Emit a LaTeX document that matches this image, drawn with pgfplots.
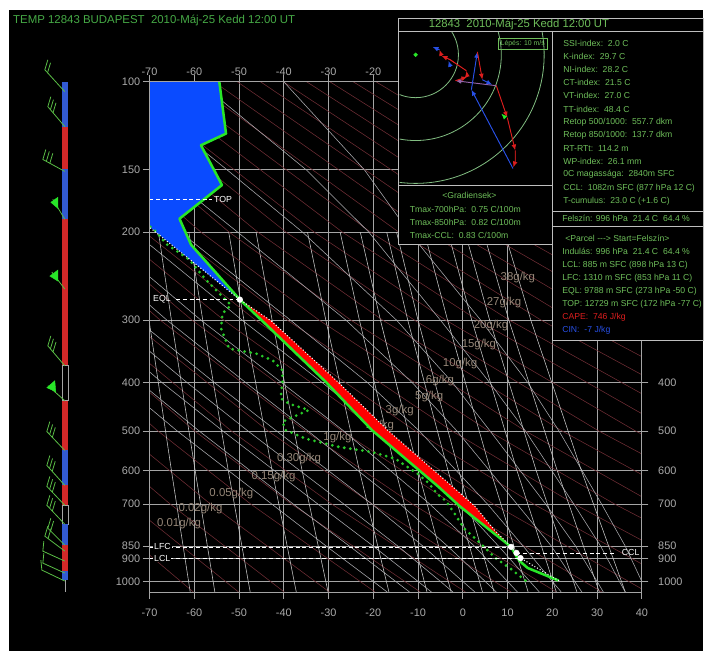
\documentclass[border=0pt]{standalone}
\usepackage{fontspec}
\setmainfont{Liberation Sans}
\usepackage{pgfplots}
\pgfplotsset{compat=1.18}
\usetikzlibrary{arrows.meta}
\definecolor{bggrid}{RGB}{165,165,165}
\definecolor{dryad}{RGB}{110,45,52}
\definecolor{wetad}{RGB}{170,170,175}
\definecolor{mixr}{RGB}{200,200,200}
\definecolor{lbl}{RGB}{150,135,120}
\definecolor{tgreen}{RGB}{40,230,40}
\definecolor{dgreen}{RGB}{40,200,40}
\definecolor{txtgreen}{RGB}{110,190,90}
\definecolor{titgreen}{RGB}{70,170,70}
\definecolor{capeblue}{RGB}{10,75,255}
\definecolor{capered}{RGB}{255,0,0}
\definecolor{boxline}{RGB}{190,190,190}
\definecolor{ticklab}{RGB}{170,170,170}
\definecolor{ring}{RGB}{130,190,130}
\definecolor{barbg}{RGB}{90,190,70}
\definecolor{barblue}{RGB}{50,90,210}
\definecolor{barred}{RGB}{210,40,40}
\definecolor{hred}{RGB}{220,30,30}
\definecolor{hblue}{RGB}{40,80,230}
\definecolor{hpurp}{RGB}{150,100,170}
\newcommand{\fs}[1]{\fontsize{#1}{#1}\selectfont}
\tikzset{glab/.style={font=\fs{8.6}, text=lbl, inner sep=0pt}, px/.style={x=0.75pt,y=-0.75pt}}
\begin{document}
\begin{tikzpicture}
\begin{scope}[px]
\path[use as bounding box] (0,0) rectangle (704,653);
\fill[black] (9,10) rectangle (705,654);
\end{scope}

\begin{axis}[at={(112.5pt,-445.5pt)}, anchor=south west, width=370.5pt, height=384pt, scale only axis,
 xmin=-70, xmax=40, ymin=100, ymax=1050, ymode=log, y dir=reverse,
 axis line style={draw=bggrid, line width=0.6pt},
 xtick={-70,-60,...,40}, xticklabels={-70,-60,-50,-40,-30,-20,-10,0,10,20,30,40},
 ytick={100,150,200,300,400,500,600,700,850,900,1000},
 yticklabels={100,150,200,300,400,500,600,700,850,900,1000},
 yminorticks=false, xminorticks=false,
 grid=major, major grid style={draw=bggrid, line width=0.5pt},
 tick style={draw=bggrid, line width=0.6pt}, tick align=outside, major tick length=5pt,
 xticklabel pos=lower, yticklabel pos=left,
 ticklabel style={font=\fs{8.2}, text=ticklab},
 xticklabel style={yshift=-3.8pt},
 yticklabel style={xshift=1.5pt},
 clip=true,
 dry/.style={draw=dryad, line width=0.42pt},
 wet/.style={draw=wetad, line width=0.42pt},
 mix/.style={draw=mixr, line width=0.42pt},
]
% dry adiabats
\addplot[dry] coordinates {(-60.2,1050) (-83.5,700)};
\addplot[dry] coordinates {(-50.1,1050) (-74.5,700)};
\addplot[dry] coordinates {(-39.9,1050) (-65.4,700) (-84.5,500)};
\addplot[dry] coordinates {(-29.8,1050) (-56.4,700) (-76.3,500)};
\addplot[dry] coordinates {(-19.6,1050) (-47.4,700) (-68.1,500) (-95.9,300)};
\addplot[dry] coordinates {(-9.5,1050) (-38.3,700) (-59.9,500) (-88.8,300)};
\addplot[dry] coordinates {(0.6,1050) (-29.3,700) (-51.7,500) (-81.7,300)};
\addplot[dry] coordinates {(10.8,1050) (-20.3,700) (-43.5,500) (-74.6,300) (-96.4,200)};
\addplot[dry] coordinates {(20.9,1050) (-11.3,700) (-35.2,500) (-67.6,300) (-90.0,200)};
\addplot[dry] coordinates {(31.1,1050) (-2.2,700) (-27.0,500) (-60.5,300) (-83.7,200)};
\addplot[dry] coordinates {(41.2,1050) (6.8,700) (-18.8,500) (-53.4,300) (-77.4,200)};
\addplot[dry] coordinates {(51.3,1050) (15.8,700) (-10.6,500) (-46.3,300) (-71.1,200) (-107.4,100)};
\addplot[dry] coordinates {(61.5,1050) (24.9,700) (-2.4,500) (-39.2,300) (-64.8,200) (-102.2,100)};
\addplot[dry] coordinates {(71.6,1050) (33.9,700) (5.8,500) (-32.1,300) (-58.5,200) (-97.0,100)};
\addplot[dry] coordinates {(42.9,700) (14.0,500) (-25.0,300) (-52.2,200) (-91.9,100)};
\addplot[dry] coordinates {(52.0,700) (22.2,500) (-17.9,300) (-45.8,200) (-86.7,100)};
\addplot[dry] coordinates {(61.0,700) (30.4,500) (-10.8,300) (-39.5,200) (-81.5,100)};
\addplot[dry] coordinates {(70.0,700) (38.6,500) (-3.8,300) (-33.2,200) (-76.3,100)};
\addplot[dry] coordinates {(46.8,500) (3.3,300) (-26.9,200) (-71.1,100)};
\addplot[dry] coordinates {(55.0,500) (10.4,300) (-20.6,200) (-66.0,100)};
\addplot[dry] coordinates {(63.2,500) (17.5,300) (-14.3,200) (-60.8,100)};
\addplot[dry] coordinates {(71.4,500) (24.6,300) (-8.0,200) (-55.6,100)};
\addplot[dry] coordinates {(79.6,500) (31.7,300) (-1.6,200) (-50.4,100)};
\addplot[dry] coordinates {(87.8,500) (38.8,300) (4.7,200) (-45.2,100)};
\addplot[dry] coordinates {(45.9,300) (11.0,200) (-40.1,100)};
\addplot[dry] coordinates {(53.0,300) (17.3,200) (-34.9,100)};
\addplot[dry] coordinates {(60.0,300) (23.6,200) (-29.7,100)};
\addplot[dry] coordinates {(67.1,300) (29.9,200) (-24.5,100)};
\addplot[dry] coordinates {(74.2,300) (36.2,200) (-19.4,100)};
\addplot[dry] coordinates {(81.5,300) (42.6,200) (-14.2,100)};
\addplot[dry] coordinates {(48.9,200) (-9.0,100)};
\addplot[dry] coordinates {(55.2,200) (-3.8,100)};
\addplot[dry] coordinates {(61.5,200) (1.4,100)};
\addplot[dry] coordinates {(67.8,200) (6.6,100)};
\addplot[dry] coordinates {(74.1,200) (11.7,100)};
\addplot[dry] coordinates {(80.4,200) (16.9,100)};
\addplot[dry] coordinates {(86.8,200) (22.1,100)};
\addplot[dry] coordinates {(93.1,200) (27.3,100)};
\addplot[dry] coordinates {(99.4,200) (32.5,100)};
\addplot[dry] coordinates {(105.7,200) (37.6,100)};
% moist adiabats
\addplot[wet] coordinates {(-16.9,1050) (-20,1000) (-30.5,850) (-42.7,700) (-63.8,500) (-76.7,400)};
\addplot[wet] coordinates {(-11.9,1050) (-15,1000) (-25.3,850) (-37.9,700) (-58.9,500) (-72.1,400)};
\addplot[wet] coordinates {(-7.0,1050) (-10,1000) (-20.0,850) (-32.4,700) (-53.6,500) (-67.2,400) (-83.4,300)};
\addplot[wet] coordinates {(-2.2,1050) (-5,1000) (-14.5,850) (-26.6,700) (-48.0,500) (-61.6,400) (-78.3,300)};
\addplot[wet] coordinates {(2.7,1050) (0,1000) (-8.9,850) (-20.3,700) (-41.6,500) (-55.5,400) (-72.7,300)};
\addplot[wet] coordinates {(7.5,1050) (5,1000) (-3.4,850) (-14.0,700) (-34.6,500) (-48.5,400) (-66.1,300) (-88.7,200)};
\addplot[wet] coordinates {(12.2,1050) (10,1000) (2.6,850) (-7.4,700) (-26.6,500) (-40.5,400) (-58.5,300) (-81.8,200)};
\addplot[wet] coordinates {(17.1,1050) (15,1000) (8.0,850) (-0.7,700) (-18.1,500) (-31.4,400) (-49.3,300) (-73.4,200)};
\addplot[wet] coordinates {(22.0,1050) (20,1000) (13.5,850) (5.5,700) (-9.7,500) (-21.3,400) (-38.5,300) (-63.1,200) (-79.7,150)};
\addplot[wet] coordinates {(26.6,1050) (25,1000) (19.8,850) (12.1,700) (-1.3,500) (-11.3,400) (-26.1,300) (-50.3,200) (-67.6,150) (-90.1,100)};
\addplot[wet] coordinates {(31.4,1050) (30,1000) (25.2,850) (18.5,700) (6.1,500) (-2.3,400) (-14.8,300) (-35.8,200) (-52.7,150) (-77,100)};
\addplot[wet] coordinates {(36.3,1050) (35,1000) (30.8,850) (24.8,700) (14,500) (6,400) (-5,300) (-21,200) (-35,150) (-59,100)};
\addplot[wet] coordinates {(41.1,1050) (40,1000) (36.3,850) (31,700) (21.5,500) (14.5,400) (4,300) (-12,200) (-22,150) (-40,100)};
% mixing ratio lines
\addplot[mix] coordinates {(-60.9,1050) (-65.1,600) (-70.1,300) (-72.8,200)};
\addplot[mix] coordinates {(-55.4,1050) (-59.8,600) (-65.1,300) (-68.0,200)};
\addplot[mix] coordinates {(-47.5,1050) (-52.4,600) (-58.1,300) (-61.2,200)};
\addplot[mix] coordinates {(-37.2,1050) (-42.6,600) (-48.9,300) (-52.3,200)};
\addplot[mix] coordinates {(-30.1,1050) (-35.9,600) (-42.6,300) (-46.2,200)};
\addplot[mix] coordinates {(-16.5,1050) (-23.1,600) (-30.6,300) (-34.7,200)};
\addplot[mix] coordinates {(-8.0,1050) (-15.0,600) (-23.1,300) (-27.4,200)};
\addplot[mix] coordinates {(-2.6,1050) (-10.0,600) (-18.4,300) (-22.9,200)};
\addplot[mix] coordinates {(4.4,1050) (-3.3,600) (-12.3,300) (-17.0,200)};
\addplot[mix] coordinates {(7.0,1050) (-0.9,600) (-10.0,300) (-14.8,200)};
\addplot[mix] coordinates {(14.6,1050) (6.2,600) (-3.4,300) (-8.6,200)};
\addplot[mix] coordinates {(20.9,1050) (12.1,600) (2.0,300) (-3.3,200)};
\addplot[mix] coordinates {(25.5,1050) (16.4,600) (6.0,300) (0.5,200)};
\addplot[mix] coordinates {(30.5,1050) (21.1,600) (10.3,300) (4.6,200)};
\addplot[mix] coordinates {(36.3,1050) (26.5,600) (15.2,300) (9.3,200)};
% mixing ratio labels
\node[glab] at (axis cs:-63.4,765) {0.01g/kg};
\node[glab] at (axis cs:-58.6,714) {0.02g/kg};
\node[glab] at (axis cs:-51.7,666) {0.05g/kg};
\node[glab] at (axis cs:-42.3,616) {0.15g/kg};
\node[glab] at (axis cs:-36.6,567) {0.30g/kg};
\node[glab] at (axis cs:-28.0,515) {1g/kg};
\node[glab] at (axis cs:-18.5,487) {2g/kg};
\node[glab] at (axis cs:-14.1,455) {3g/kg};
\node[glab] at (axis cs:-7.5,426) {5g/kg};
\node[glab] at (axis cs:-5.1,397) {6g/kg};
\node[glab] at (axis cs:-0.6,366) {10g/kg};
\node[glab] at (axis cs:3.6,335) {15g/kg};
\node[glab] at (axis cs:6.3,307) {20g/kg};
\node[glab] at (axis cs:9.2,277) {27g/kg};
\node[glab] at (axis cs:12.3,247) {38g/kg};
% negative area (blue)
\addplot[fill=capeblue, draw=none] coordinates {(-70,100) (-54.4,100) (-52.9,127) (-58.5,134) (-53.8,161) (-63.3,188) (-60.7,212) (-49.8,273) (-59.6,232) (-70,195)} -- cycle;
% CAPE (red)
\addplot[fill=capered, draw=none] coordinates {(10.8,853) (7.1,790) (2.7,707) (-2.2,647) (-16.8,498) (-27.9,399) (-42.8,301) (-49.8,273) (-44.8,301) (-30.6,399) (-20.3,498) (-5.4,647) (-0.7,707) (10.8,853)} -- cycle;
% dew point
\addplot[draw=dgreen, line width=2.3pt, line cap=round, dash pattern=on 0pt off 4.6pt] coordinates {(14.0,996) (10.8,945) (7.3,898) (3.9,838) (0.2,782) (-1.8,732) (-3.8,690) (-5.8,667) (-7.6,636) (-10.2,608) (-15.1,568) (-20.3,551) (-27.7,538) (-35.1,518) (-39.6,498) (-40.3,479) (-34.4,454) (-38.8,441) (-40.7,430) (-40.3,399) (-40.3,378) (-42.5,361) (-46.2,350) (-52.2,342) (-54.0,312) (-53.7,291) (-51.8,280) (-57.4,249) (-61.1,227) (-66.3,211) (-68.9,198) (-70.5,193)};
% temperature
\addplot[draw=tgreen, line width=1.9pt, line join=round] coordinates {(21.4,996) (14.5,940) (12.8,912) (12.2,898) (10.8,853) (-0.7,707) (-5.4,647) (-20.3,498) (-30.6,399) (-44.8,301) (-49.8,273) (-60.7,212) (-63.3,188) (-53.8,161) (-58.5,134) (-52.9,127) (-54.4,100)};
% parcel
\addplot[draw=white, line width=1.1pt, line cap=round, dash pattern=on 0pt off 2.3pt] coordinates {(21.4,996) (17.3,948) (12.9,898) (10.8,853) (7.1,790) (2.7,707) (-2.2,647) (-16.8,498) (-27.9,399) (-42.8,301) (-49.8,273) (-59.6,232) (-70.5,194)};
% level lines
\addplot[draw=white, line width=0.6pt, dash pattern=on 3pt off 2pt] coordinates {(-70,853) (10.8,853)};
\addplot[draw=white, line width=0.6pt, dash pattern=on 3pt off 2pt] coordinates {(-70,898) (12.9,898)};
\addplot[draw=white, line width=0.6pt, dash pattern=on 3pt off 2pt] coordinates {(12,877) (34.2,877)};
\addplot[draw=white, line width=0.6pt, dash pattern=on 3pt off 2pt] coordinates {(-64,273) (-49.8,273)};
\addplot[draw=white, line width=0.6pt, dash pattern=on 3pt off 2pt] coordinates {(-70,172) (-56,172)};
\addplot[only marks, mark=*, mark size=2.1pt, mark options={fill=white, draw=white}] coordinates {(10.8,853) (12,877) (12.9,898) (-49.8,273)};
\node[anchor=west, font=\fs{6.6}, text=white, fill=black, inner sep=0.6pt] at (axis cs:-69.2,853) {LFC};
\node[anchor=west, font=\fs{6.6}, text=white, fill=black, inner sep=0.6pt] at (axis cs:-69.2,898) {LCL};
\node[anchor=west, font=\fs{6.6}, text=white, inner sep=0.6pt] at (axis cs:-69.4,273) {EQL};
\node[anchor=west, font=\fs{6.6}, text=white, inner sep=0.6pt] at (axis cs:-55.8,172) {TOP};
\node[anchor=west, font=\fs{6.6}, text=white, inner sep=0.6pt] at (axis cs:35.3,877) {CCL};
\end{axis}

% second axis for top and right tick labels
\begin{axis}[at={(112.5pt,-445.5pt)}, anchor=south west, width=370.5pt, height=384pt, scale only axis,
 xmin=-70, xmax=40, ymin=100, ymax=1050, ymode=log, y dir=reverse,
 axis line style={draw=bggrid, line width=0.6pt},
 xtick={-70,-60,...,-20}, xticklabels={-70,-60,-50,-40,-30,-20},
 ytick={400,500,600,700,850,900,1000},
 yticklabels={400,500,600,700,850,900,1000},
 yminorticks=false, xminorticks=false,
 tick style={draw=bggrid, line width=0.6pt}, tick align=outside, major tick length=5pt,
 xticklabel pos=upper, yticklabel pos=right,
 ticklabel style={font=\fs{8.2}, text=ticklab},
 xticklabel style={yshift=-4.2pt},
 yticklabel style={xshift=3.8pt},
]
\end{axis}

\begin{scope}[px]
% info boxes
\filldraw[fill=black, draw=boxline, line width=0.6pt] (400,18) rectangle (706,212);
\draw[boxline, line width=0.6pt] (400,32) -- (706,32);
\draw[boxline, line width=0.6pt] (554,32) -- (554,212);
\filldraw[fill=black, draw=boxline, line width=0.6pt] (400,186) rectangle (554,245);
\filldraw[fill=black, draw=boxline, line width=0.6pt] (554,212) rectangle (706,227);
\filldraw[fill=black, draw=boxline, line width=0.6pt] (554,227) rectangle (706,342);
\begin{scope}
\clip (401,33) rectangle (553,185);
\draw[ring, line width=0.6pt] (417,55) circle[radius=32.25pt];
\draw[ring, line width=0.6pt] (417,55) circle[radius=64.5pt];
\draw[ring, line width=0.6pt] (417,55) circle[radius=96.75pt];
\end{scope}
\draw[txtgreen, line width=0.5pt] (500,38) rectangle (549,49);
\node[anchor=center, font=\fs{5.2}, text=txtgreen, inner sep=0pt] at (524.5,43.5) {Lépés: 10 m/s};
\end{scope}

% overlay axis in pixel units: wind column and hodograph
\begin{axis}[at={(0pt,-489.75pt)}, anchor=south west, width=528pt, height=489.75pt, scale only axis,
 xmin=0, xmax=704, ymin=0, ymax=653, y dir=reverse, hide axis, clip=false,
 barb/.style={draw=barbg, line width=0.6pt},
 pen/.style={fill=tgreen, draw=tgreen, line width=0.3pt},
 seg/.style={draw=none},
 ha/.style={line width=0.7pt, -{Latex[length=4.5pt,width=3.6pt]}},
]
% wind column bar
\addplot[draw=bggrid, line width=0.6pt] coordinates {(65.5,582) (65.5,594)};
\addplot[fill=barblue, seg] coordinates {(62.5,82) (68.5,82) (68.5,127) (62.5,127)} -- cycle;
\addplot[fill=barred, seg] coordinates {(62.5,127) (68.5,127) (68.5,170) (62.5,170)} -- cycle;
\addplot[fill=barblue, seg] coordinates {(62.5,170) (68.5,170) (68.5,220) (62.5,220)} -- cycle;
\addplot[fill=barred, seg] coordinates {(62.5,220) (68.5,220) (68.5,367) (62.5,367)} -- cycle;
\addplot[fill=black, draw=bggrid, line width=0.5pt] coordinates {(62.5,367) (68.5,367) (68.5,402) (62.5,402)} -- cycle;
\addplot[fill=barred, seg] coordinates {(62.5,402) (68.5,402) (68.5,452) (62.5,452)} -- cycle;
\addplot[fill=barblue, seg] coordinates {(62.5,452) (68.5,452) (68.5,487) (62.5,487)} -- cycle;
\addplot[fill=barred, seg] coordinates {(62.5,487) (68.5,487) (68.5,507) (62.5,507)} -- cycle;
\addplot[fill=black, draw=bggrid, line width=0.5pt] coordinates {(62.5,507) (68.5,507) (68.5,526) (62.5,526)} -- cycle;
\addplot[fill=barblue, seg] coordinates {(62.5,526) (68.5,526) (68.5,547) (62.5,547)} -- cycle;
\addplot[fill=barred, seg] coordinates {(62.5,547) (68.5,547) (68.5,573) (62.5,573)} -- cycle;
\addplot[fill=barblue, seg] coordinates {(62.5,573) (68.5,573) (68.5,582) (62.5,582)} -- cycle;
% wind barbs
\addplot[barb] coordinates {(65,92) (45,70) (48,60)};
\addplot[barb] coordinates {(47.7,73) (50.7,63)};
\addplot[barb] coordinates {(65,127) (48,107) (51,97)};
\addplot[barb] coordinates {(50.6,110) (53.6,100)};
\addplot[barb] coordinates {(53.2,113.1) (56.2,103.1)};
\addplot[barb] coordinates {(65,172) (43,160) (46,150)};
\addplot[barb] coordinates {(46.5,161.9) (49.5,151.9)};
\addplot[barb] coordinates {(50,163.8) (53,153.8)};
\addplot[barb] coordinates {(65,220) (53,200)};
\addplot[pen] coordinates {(51,203) (58,198) (58,209)} -- cycle;
\addplot[barb] coordinates {(65,290) (52,273)};
\addplot[pen] coordinates {(50,277) (58,271) (58,282)} -- cycle;
\addplot[barb] coordinates {(65,367) (48,347) (51,337)};
\addplot[barb] coordinates {(50.6,350) (53.6,340)};
\addplot[barb] coordinates {(53.2,353.1) (56.2,343.1)};
\addplot[barb] coordinates {(65,402) (48,387)};
\addplot[pen] coordinates {(47,389) (55,382) (56,393)} -- cycle;
\addplot[barb] coordinates {(65,452) (47,433) (50,423)};
\addplot[barb] coordinates {(49.8,435.9) (52.8,425.9)};
\addplot[barb] coordinates {(52.5,438.8) (55.5,428.8)};
\addplot[barb] coordinates {(65,487) (47,467) (50,457)};
\addplot[barb] coordinates {(49.7,470) (52.7,460)};
\addplot[barb] coordinates {(52.4,472.9) (55.4,462.9)};
\addplot[barb] coordinates {(65,507) (47,488) (50,478)};
\addplot[barb] coordinates {(49.8,490.9) (52.8,480.9)};
\addplot[barb] coordinates {(52.5,493.8) (55.5,483.8)};
\addplot[barb] coordinates {(65,526) (47,507) (50,497)};
\addplot[barb] coordinates {(49.8,509.9) (52.8,499.9)};
\addplot[barb] coordinates {(52.5,512.8) (55.5,502.8)};
\addplot[barb] coordinates {(65,547) (48,530) (51,520)};
\addplot[barb] coordinates {(50.8,532.8) (53.8,522.8)};
\addplot[barb] coordinates {(65,553) (45,538) (48,528)};
\addplot[barb] coordinates {(48.2,540.4) (51.2,530.4)};
\addplot[barb] coordinates {(65,563) (43,553) (44,543)};
\addplot[barb] coordinates {(65,575) (43,565) (44,555)};
\addplot[barb] coordinates {(65,583) (42,572) (41,562)};
% hodograph
\addplot[only marks, mark=*, mark size=1.4pt, mark options={fill=tgreen, draw=tgreen}] coordinates {(417,55)};
\addplot[ha, draw=hpurp] coordinates {(498,86) (457,81)};
\addplot[ha, draw=hblue, fill=hblue] coordinates {(514.7,169) (473,90)};
\addplot[ha, draw=hblue, fill=hblue] coordinates {(473,90) (479,52)};
\addplot[ha, draw=hred, fill=hred] coordinates {(479,52) (484,80)};
\addplot[ha, draw=hblue, fill=hblue] coordinates {(484,80) (494,85)};
\addplot[ha, draw=hred, fill=hred] coordinates {(498,86) (509,118)};
\addplot[ha, draw=hred, fill=hred] coordinates {(509,118) (517,151)};
\addplot[ha, draw=hred, fill=hred] coordinates {(517,151) (517,162) (515,168)};
\addplot[ha, draw=hred, fill=hred] coordinates {(457,81) (469,77)};
\addplot[ha, draw=hred, fill=hred] coordinates {(469,77) (468,71)};
\addplot[ha, draw=hred, fill=hred] coordinates {(468,71) (452,60) (443,56)};
\addplot[ha, draw=hblue, fill=hblue] coordinates {(452,67) (450,61)};
\addplot[ha, draw=hred, fill=hred] coordinates {(443,56) (441,50)};
\addplot[ha, draw=hblue, fill=hblue] coordinates {(441,50) (434,47)};
\addplot[ha, draw=tgreen, fill=tgreen] coordinates {(507,118) (503,114)};
\end{axis}

\begin{scope}[px]
\node[anchor=west, font=\fs{8.6}, text=titgreen, inner sep=0pt] at (13,21) {TEMP 12843 BUDAPEST~~2010-Máj-25 Kedd 12:00 UT};
\node[anchor=west, font=\fs{8.5}, text=txtgreen, inner sep=0pt] at (430,25) {12843~~2010-Máj-25 Kedd 12:00 UT};
\begin{scope}[every node/.style={anchor=west, font=\fs{6.5}, text=txtgreen, inner sep=0pt}]
\node at (565,43.3) {SSI-index:~~2.0 C};
\node at (565,56.5) {K-index:~~29.7 C};
\node at (565,69.7) {NI-index:~~28.2 C};
\node at (565,82.9) {CT-index:~~21.5 C};
\node at (565,96.1) {VT-index:~~27.0 C};
\node at (565,109.3) {TT-index:~~48.4 C};
\node at (565,122.5) {Retop 500/1000:~~557.7 dkm};
\node at (565,135.7) {Retop 850/1000:~~137.7 dkm};
\node at (565,148.9) {RT-RTt:~~114.2 m};
\node at (565,162.1) {WP-index:~~26.1 mm};
\node at (565,175.3) {0C magassága:~~2840m SFC};
\node at (565,188.5) {CCL:~~1082m SFC (877 hPa 12 C)};
\node at (565,201.7) {T-cumulus:~~23.0 C (+1.6 C)};
\node at (564,219.5) {Felszín: 996 hPa~~21.4 C~~64.4 \%};
\node at (567,239.3) {<Parcel -\kern0pt-\kern0pt-> Start=Felszín>};
\node at (564,252.5) {Indulás: 996 hPa~~21.4 C~~64.4 \%};
\node at (564,265.7) {LCL: 885 m SFC (898 hPa 13 C)};
\node at (564,278.9) {LFC: 1310 m SFC (853 hPa 11 C)};
\node at (564,292.1) {EQL: 9788 m SFC (273 hPa -50 C)};
\node at (564,305.3) {TOP: 12729 m SFC (172 hPa -77 C)};
\node[text=hred] at (564,318.5) {CAPE:~~746 J/kg};
\node[text=hblue] at (564,331.7) {CIN:~~-7 J/kg};
\node at (411,210) {Tmax-700hPa:~~0.75 C/100m};
\node at (411,223) {Tmax-850hPa:~~0.82 C/100m};
\node at (411,236) {Tmax-CCL:~~0.83 C/100m};
\node[anchor=center] at (471,196) {<Gradiensek>};
\end{scope}
\end{scope}
\end{tikzpicture}
\end{document}
